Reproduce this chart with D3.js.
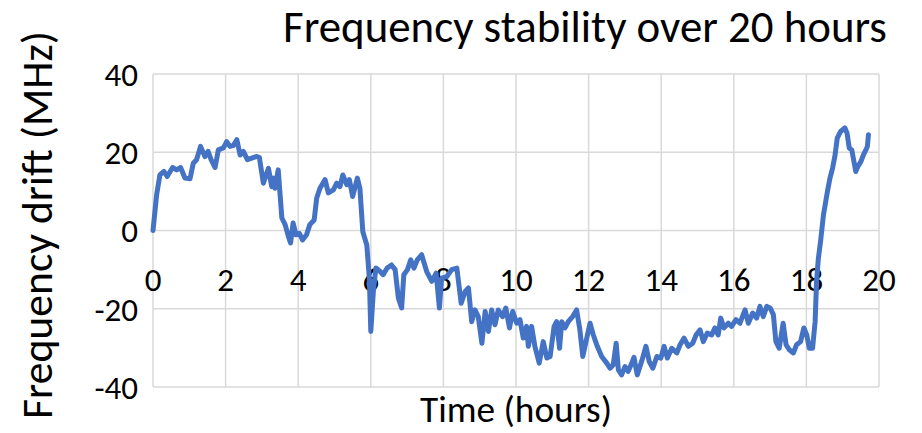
<!DOCTYPE html>
<html>
<head>
<meta charset="utf-8">
<title>Frequency stability over 20 hours</title>
<script src="https://d3js.org/d3.v7.min.js"></script>
<style>
  body { margin: 0; background: #fff; }
  text { font-family: Carlito, Calibri, Lato, sans-serif; fill: #000; }
  .grid line { stroke: #d9d9d9; stroke-width: 1.5px; }
  .drift { fill: none; stroke: #4472c4; stroke-width: 5px; stroke-linejoin: round; stroke-linecap: round; }
</style>
</head>
<body>
<div id="chart"></div>
<script>
const title = "Frequency stability over 20 hours";
const xTitle = "Time (hours)";
const yTitle = "Frequency drift (MHz)";
const xTicks = [0, 2, 4, 6, 8, 10, 12, 14, 16, 18, 20];
const yTicks = [-40, -20, 0, 20, 40];

// hours
const hours = [
  0, 0.10, 0.19, 0.30, 0.39, 0.54, 0.65, 0.76, 0.88, 1.02, 1.11, 1.20, 1.31, 1.43, 1.52, 1.60, 1.71, 1.80, 1.94,
  2.03, 2.12, 2.21, 2.31, 2.40, 2.49, 2.60, 2.72, 2.84, 2.93, 3.04, 3.18, 3.27, 3.31, 3.36, 3.45, 3.55, 3.64, 3.73,
  3.79, 3.86, 3.94, 4.03, 4.12, 4.23, 4.32, 4.44, 4.51, 4.60, 4.74, 4.83, 4.97, 5.06, 5.15, 5.23, 5.34, 5.41, 5.50,
  5.63, 5.70, 5.78, 5.89, 5.96, 6.00, 6.07, 6.14, 6.25, 6.34, 6.45, 6.57, 6.67, 6.76, 6.85, 6.91, 7.01, 7.10, 7.19,
  7.28, 7.40, 7.54, 7.68, 7.80, 7.89, 7.95, 8.09, 8.23, 8.37, 8.49, 8.60, 8.69, 8.78, 8.87, 8.96, 9.06, 9.15, 9.24,
  9.33, 9.42, 9.51, 9.63, 9.72, 9.82, 9.91, 10.02, 10.11, 10.20, 10.29, 10.34, 10.43, 10.52, 10.64, 10.75, 10.85,
  10.94, 11.05, 11.12, 11.20, 11.26, 11.35, 11.44, 11.56, 11.67, 11.76, 11.84, 11.95, 12.04, 12.13, 12.24, 12.36,
  12.50, 12.59, 12.68, 12.76, 12.82, 12.91, 13.00, 13.09, 13.19, 13.25, 13.34, 13.46, 13.58, 13.67, 13.77, 13.88,
  13.99, 14.08, 14.17, 14.29, 14.43, 14.52, 14.63, 14.75, 14.87, 14.96, 15.07, 15.16, 15.27, 15.39, 15.48, 15.57,
  15.64, 15.73, 15.85, 15.94, 16.06, 16.17, 16.31, 16.40, 16.52, 16.63, 16.72, 16.81, 16.91, 17.00, 17.09, 17.16,
  17.25, 17.36, 17.44, 17.53, 17.64, 17.73, 17.84, 17.93, 18.01, 18.08, 18.17, 18.24, 18.28, 18.33, 18.39, 18.47,
  18.58, 18.65, 18.72, 18.79, 18.85, 18.94, 19.06, 19.12, 19.18, 19.25, 19.31, 19.36, 19.42, 19.50, 19.57, 19.64,
  19.68, 19.71
];
// MHz
const drift = [
  0, 9.1, 14.2, 15.1, 13.8, 16.1, 15.5, 16.1, 13.4, 13.2, 17.2, 18.1, 21.5, 18.9, 20.2, 18.1, 16.1, 20.6, 21.1,
  22.7, 21.5, 21.7, 23.2, 19.3, 20.2, 18.1, 18.5, 18.9, 18.7, 12.1, 15.9, 11.2, 13.4, 10.8, 15.5, 3.2, 1.5, -1.5,
  -3.2, 1.9, -1.1, -0.7, -2.4, -1.1, 1.5, 2.7, 8.3, 10.8, 13.0, 9.6, 10.4, 12.1, 11.2, 14.2, 11.7, 13.0, 8.7,
  13.4, 10.8, -0.3, -3.7, -12.2, -25.8, -15.6, -9.6, -10.4, -11.3, -9.6, -8.8, -10.0, -17.3, -19.8, -11.3, -10.0, -7.5, -9.6,
  -7.5, -6.2, -10.5, -13.0, -10.9, -19.8, -12.2, -11.8, -10.0, -9.6, -18.6, -15.6, -14.7, -23.3, -20.3, -22.0, -28.8, -20.7, -25.8,
  -20.3, -24.1, -20.3, -22.0, -19.8, -24.9, -20.7, -23.7, -22.8, -27.5, -24.5, -29.6, -24.5, -29.6, -33.9, -28.4, -32.6,
  -32.2, -24.5, -23.3, -30.1, -23.3, -24.9, -23.3, -22.0, -20.3, -25.4, -32.2, -27.5, -23.7, -26.7, -29.6, -32.2,
  -33.9, -35.2, -34.3, -28.8, -35.6, -36.9, -34.8, -36.0, -33.9, -32.4, -36.9, -33.5, -29.6, -33.5, -35.2, -32.2,
  -32.6, -29.6, -32.6, -30.1, -31.3, -29.2, -27.5, -29.6, -28.8, -26.7, -25.4, -28.4, -26.2, -26.7, -24.9, -26.7,
  -22.4, -24.9, -23.7, -24.5, -22.8, -23.7, -20.3, -23.7, -21.1, -22.4, -19.4, -22.0, -19.4, -19.8, -21.5, -28.4,
  -30.1, -23.7, -29.2, -30.5, -31.3, -29.2, -28.4, -24.9, -26.7, -30.1, -30.1, -23.3, -13.0, -7.1, -2.8, 4.0,
  10.0, 13.4, 15.9, 19.3, 23.6, 25.3, 26.2, 24.9, 21.1, 20.6, 17.6, 15.1, 16.4, 17.6, 19.3, 20.6,
  21.5, 24.5
];

const width = 922, height = 433;
const margin = {top: 74, right: 43, bottom: 46, left: 153};

const svg = d3.select("#chart").append("svg")
  .attr("width", width)
  .attr("height", height);

const x = d3.scaleLinear().domain([0, 20]).range([margin.left, width - margin.right]);
const y = d3.scaleLinear().domain([-40, 40]).range([height - margin.bottom, margin.top]);

// gridlines
const grid = svg.append("g").attr("class", "grid");
grid.selectAll(".v").data(xTicks).join("line")
  .attr("class", "v")
  .attr("x1", d => x(d)).attr("x2", d => x(d))
  .attr("y1", y(40)).attr("y2", y(-40));
grid.selectAll(".h").data(yTicks).join("line")
  .attr("class", "h")
  .attr("x1", x(0)).attr("x2", x(20))
  .attr("y1", d => y(d)).attr("y2", d => y(d));

// tick labels (x labels sit just under the zero line)
svg.append("g").selectAll("text").data(xTicks).join("text")
  .attr("x", d => x(d))
  .attr("y", y(0) + 60)
  .attr("text-anchor", "middle")
  .style("font-size", "33px")
  .text(d => d);

svg.append("g").selectAll("text").data(yTicks).join("text")
  .attr("x", x(0) - 15)
  .attr("y", d => y(d))
  .attr("dy", "0.36em")
  .attr("text-anchor", "end")
  .style("font-size", "33px")
  .text(d => d);

// line
const pts = hours.map((h, i) => [h, drift[i]]);
svg.append("path")
  .datum(pts)
  .attr("class", "drift")
  .attr("d", d3.line().x(d => x(d[0])).y(d => y(d[1])));

// fit a label to a measured width
function fit(sel, w) {
  const len = sel.node().getComputedTextLength();
  const fs = parseFloat(sel.style("font-size"));
  sel.style("font-size", (fs * w / len) + "px");
}

const t = svg.append("text")
  .attr("x", 585).attr("y", 42)
  .attr("text-anchor", "middle")
  .style("font-size", "36px")
  .text(title);
fit(t, 604);

const xt = svg.append("text")
  .attr("x", 516).attr("y", 422)
  .attr("text-anchor", "middle")
  .style("font-size", "32px")
  .text(xTitle);
fit(xt, 192);

const yt = svg.append("text")
  .attr("transform", `translate(52,${225}) rotate(-90)`)
  .attr("text-anchor", "middle")
  .style("font-size", "32px")
  .text(yTitle);
fit(yt, 388);
</script>
</body>
</html>
